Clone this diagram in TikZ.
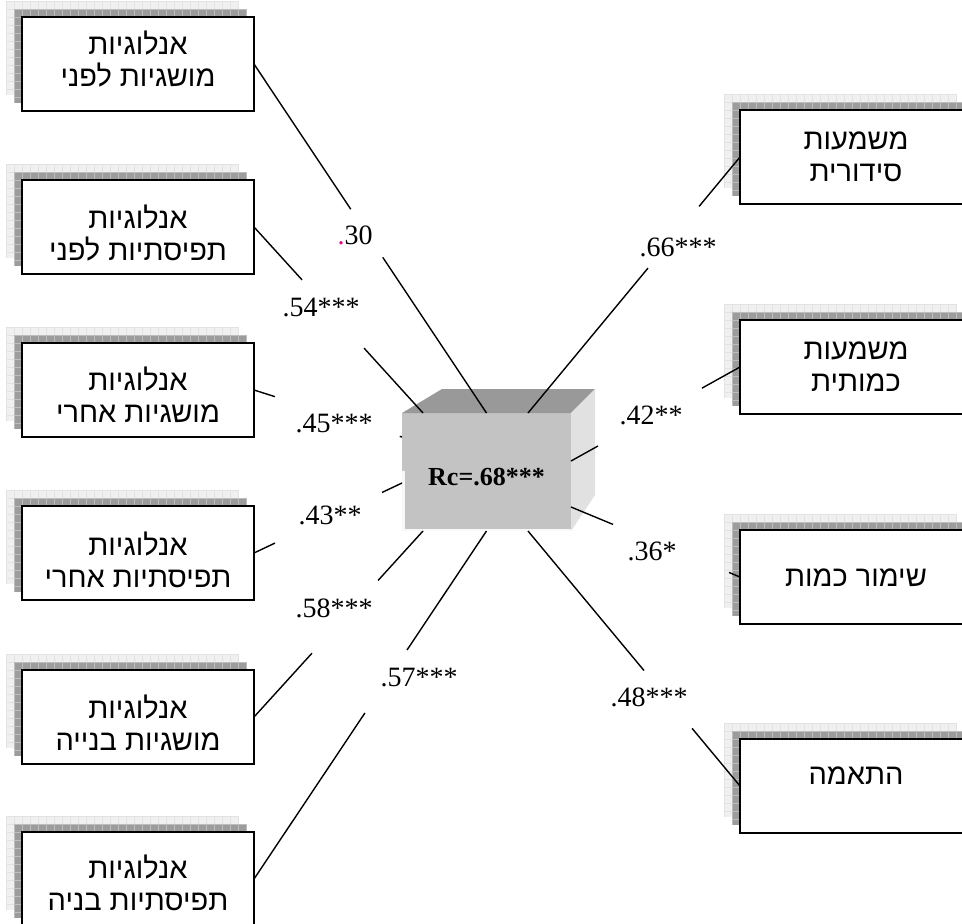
\documentclass[tikz,border=0pt]{standalone}
\usepackage{fontspec}
\setmainfont{Liberation Serif}
\newfontfamily\hebfont[Script=Hebrew]{Liberation Sans}
\TeXXeTstate=1
\usetikzlibrary{calc}

\definecolor{shLight}{HTML}{F0F0F0}
\definecolor{shLightGrid}{HTML}{E2E2E2}
\definecolor{shDark}{HTML}{9C9C9C}
\definecolor{shDarkGrid}{HTML}{BDBDBD}
\definecolor{faceFront}{HTML}{C3C3C3}
\definecolor{faceTop}{HTML}{999999}
\definecolor{faceSide}{HTML}{E1E1E1}

\tikzset{
  hbox/.style={draw=black, line width=1.8pt, fill=white, minimum width=232pt,
    minimum height=94pt, inner sep=0pt, outer sep=0pt},
  hebtext/.style={font=\hebfont\fontsize{29}{32}\selectfont, align=center, inner sep=0pt},
  coef/.style={font=\fontsize{28}{32}\selectfont, inner sep=0pt},
  cbox/.style={fill=faceFront, minimum width=169pt, minimum height=118pt, inner sep=0pt,
    outer sep=0pt, font=\bfseries\fontsize{26}{30}\selectfont, text height=26pt, text depth=0pt},
  link/.style={draw=black, line width=1.4pt},
}

% two stacked grid-textured shadow layers
\newcommand\shadowlayer[4]{%
  \fill[#3] (#1,#2) rectangle ++(232,94);
  \foreach \k in {0,8,...,232}{\draw[#4,line width=0.4pt] ({#1+\k},#2) -- ++(0,94);}
  \foreach \k in {0,8,...,88}{\draw[#4,line width=0.4pt] (#1,{#2+\k}) -- ++(232,0);}
}
% framed box with its shadow: name, left, top
\newcommand\framedbox[3]{%
  \shadowlayer{#2-16}{#3-16}{shLight}{shLightGrid}
  \shadowlayer{#2-8}{#3-8}{shDark}{shDarkGrid}
  \node[hbox, anchor=north west] (#1) at (#2,#3) {};
}
% connector interrupted around its coefficient
\newcommand\brokenlink[4]{%
  \draw[link] (#1) -- ($(#1)!#3!(#2)$);
  \draw[link] ($(#1)!#4!(#2)$) -- (#2);
}

\begin{document}
\begin{tikzpicture}[x=1pt,y=-1pt]
\useasboundingbox (0,0) rectangle (962,924);
\clip (0,0) rectangle (962,924);

% left column
\framedbox{b1}{22}{17}
\framedbox{b2}{22}{180}
\framedbox{b3}{22}{343}
\framedbox{b4}{22}{506}
\framedbox{b5}{22}{670}
\framedbox{b6}{22}{832}
% right column
\framedbox{r1}{740}{110}
\framedbox{r2}{740}{320}
\framedbox{r3}{740}{530}
\framedbox{r4}{740}{739}

% central block
\node[cbox] (c) at (486.5,472) {Rc=.68***};
\fill[faceTop] (c.north west) -- ++(40,-24) -- ([shift={(24,-24)}]c.north east) -- (c.north east) -- cycle;
\fill[faceSide] (c.north east) -- ++(24,-24) -- ++(0,106) -- (c.south east) -- cycle;
\fill[white!88!faceFront] (c.south west) rectangle ([shift={(3,-60)}]c.south west);
\fill[white!88!faceFront] (c.south west) rectangle ([shift={(0,-2)}]c.south east);

\coordinate (cTL) at (423,413);
\coordinate (cTR) at (528,413);
\coordinate (cL1) at (402,437);
\coordinate (cL2) at (402,483);
\coordinate (cBL) at (423,531);
\coordinate (cBR) at (528,531);
\coordinate (cR1) at (571,461);
\coordinate (cR2) at (571,507);

% connectors
\brokenlink{b1.east}{c.north}{0.416}{0.554}
\brokenlink{b2.east}{cTL}{0.284}{0.651}
\brokenlink{b3.east}{cL1}{0.142}{0.985}
\brokenlink{b4.east}{cL2}{0.142}{0.865}
\brokenlink{b5.east}{cBL}{0.343}{0.734}
\brokenlink{b6.east}{c.south}{0.477}{0.658}
\brokenlink{r1.west}{cTR}{0.193}{0.434}
\brokenlink{r2.west}{cR1}{0.225}{0.840}
\brokenlink{r3.west}{cR2}{0.065}{0.751}
\brokenlink{r4.west}{cBR}{0.226}{0.453}

% coefficients
\node[coef] (k1) at (355,235) {\mbox{\color{magenta}.}\mbox{30}};
\node[coef] (k2) at (321,307) {.54***};
\node[coef] (k3) at (334,423) {.45***};
\node[coef] (k4) at (330,515) {.43**};
\node[coef] (k5) at (334,608) {.58***};
\node[coef] (k6) at (419,678) {.57***};
\node[coef] (k7) at (678,247) {.66***};
\node[coef] (k8) at (651,415) {.42**};
\node[coef] (k9) at (652,551) {.36*};
\node[coef] (k10) at (649,697) {.48***};

% box texts
\node[hebtext] (t1) at (138,59) {\beginR אנלוגיות\endR\\\beginR מושגיות לפני\endR};
\node[hebtext] (t2) at (138,233.5) {\beginR אנלוגיות\endR\\\beginR תפיסתיות לפני\endR};
\node[hebtext] (t3) at (138,395) {\beginR אנלוגיות\endR\\\beginR מושגיות אחרי\endR};
\node[hebtext] (t4) at (138,559.5) {\beginR אנלוגיות\endR\\\beginR תפיסתיות אחרי\endR};
\node[hebtext] (t5) at (138,723) {\beginR אנלוגיות\endR\\\beginR מושגיות בנייה\endR};
\node[hebtext] (t6) at (138,882.5) {\beginR אנלוגיות\endR\\\beginR תפיסתיות בניה\endR};
\node[hebtext] (t7) at (856,156.5) {\beginR משמעות\endR\\\beginR סידורית\endR};
\node[hebtext] (t8) at (856,367) {\beginR משמעות\endR\\\beginR כמותית\endR};
\node[hebtext] (t9) at (856,578) {\beginR שימור כמות\endR};
\node[hebtext] (t10) at (856,776) {\beginR התאמה\endR};
\end{tikzpicture}
\end{document}
